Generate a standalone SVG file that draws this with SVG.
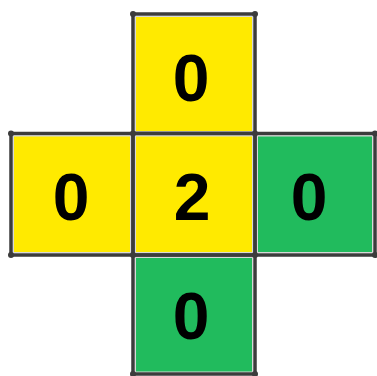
<svg xmlns="http://www.w3.org/2000/svg" width="377" height="376" viewBox="0 0 377 376">
<style>
.y{fill:#FFEA00;stroke:#d8d8d8;stroke-width:1}
.g{fill:#21BB5D;stroke:#d8d8d8;stroke-width:1}
.b{fill:none;stroke:#3c3c3c;stroke-width:3.5}
.d{fill:#3c3c3c}
.t{font-family:"Liberation Sans",Arial,sans-serif;font-weight:bold;font-size:66px;fill:#000;text-anchor:middle}
</style>
<rect width="377" height="376" fill="#fff"/>
<g id="top">
<rect class="y" x="135.5" y="16.5" width="117" height="115"/>
<rect class="b" x="133" y="14" width="122" height="119.5"/>
<text class="t" x="191" y="101">0</text>
</g>
<g id="left">
<rect class="y" x="13.5" y="136" width="117" height="116.5"/>
<rect class="b" x="11" y="133.5" width="122" height="121.5"/>
<text class="t" x="71" y="220">0</text>
</g>
<g id="center">
<rect class="y" x="135.5" y="136" width="117" height="116.5"/>
<rect class="b" x="133" y="133.5" width="122" height="121.5"/>
<text class="t" x="192" y="220">2</text>
</g>
<g id="right">
<rect class="g" x="257.5" y="136" width="115" height="116.5"/>
<rect class="b" x="255" y="133.5" width="120" height="121.5"/>
<text class="t" x="309" y="220">0</text>
</g>
<g id="bottom">
<rect class="g" x="135.5" y="257.5" width="117" height="114.5"/>
<rect class="b" x="133" y="255" width="122" height="119"/>
<text class="t" x="191" y="339">0</text>
</g>
<g id="corners">
<circle class="d" cx="133" cy="14" r="3"/>
<circle class="d" cx="255" cy="14" r="3"/>
<circle class="d" cx="11" cy="133.5" r="3"/>
<circle class="d" cx="133" cy="133.5" r="3"/>
<circle class="d" cx="255" cy="133.5" r="3"/>
<circle class="d" cx="375" cy="133.5" r="3"/>
<circle class="d" cx="11" cy="255" r="3"/>
<circle class="d" cx="133" cy="255" r="3"/>
<circle class="d" cx="255" cy="255" r="3"/>
<circle class="d" cx="375" cy="255" r="3"/>
<circle class="d" cx="133" cy="374" r="3"/>
<circle class="d" cx="255" cy="374" r="3"/>
</g>
</svg>
